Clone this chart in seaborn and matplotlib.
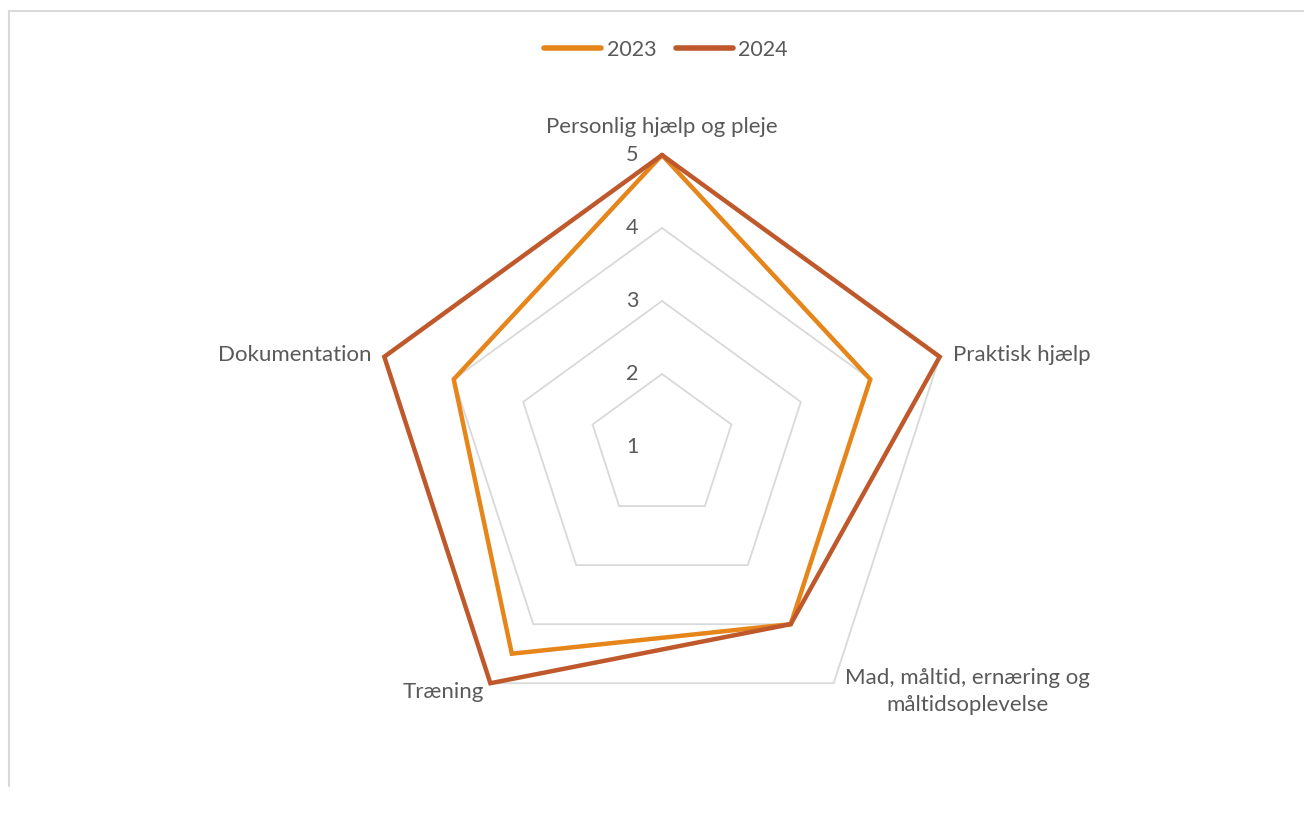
import numpy as np
import pandas as pd
import matplotlib
matplotlib.use("Agg")
import matplotlib.pyplot as plt
from matplotlib.lines import Line2D
import seaborn as sns

categories = ["Personlig hjælp og pleje", "Praktisk hjælp",
              "Mad, måltid, ernæring og\nmåltidsoplevelse", "Træning", "Dokumentation"]
values_2023 = [5, 4, 4, 4.5, 4]
values_2024 = [5, 5, 4, 5, 5]
series_names = ["2023", "2024"]
ring_ticks = [1, 2, 3, 4, 5]

colors = {"2023": "#E6851A", "2024": "#BF582B"}
text_color = "#595959"

sns.set_theme(style="white")
plt.rcParams["font.family"] = ["Lato", "DejaVu Sans"]

W, H = 1304, 814
fig = plt.figure(figsize=(W / 100, H / 100), dpi=100)
cx, cy, R = 662, 447, 292
ax = fig.add_axes([(cx - R) / W, (H - cy - R) / H, 2 * R / W, 2 * R / H], projection="polar")
ax.set_theta_offset(np.pi / 2)
ax.set_theta_direction(-1)
ax.set_ylim(ring_ticks[0], ring_ticks[-1])
ax.grid(False)
ax.spines["polar"].set_visible(False)
ax.set_xticks([])
ax.set_yticks([])
ax.patch.set_alpha(0)

n = len(categories)
angles = np.arange(n) * 2 * np.pi / n
closed_angles = np.append(angles, angles[0])

# pentagon grid rings
for r in ring_ticks[1:]:
    ax.plot(closed_angles, [r] * (n + 1), color="#D9D9D9", lw=1.3, zorder=1, clip_on=False)

rows = []
for name, vals in zip(series_names, [values_2023, values_2024]):
    closed_vals = list(vals) + [vals[0]]
    for i, (a, v) in enumerate(zip(closed_angles, closed_vals)):
        rows.append({"order": i, "theta": a, "value": v, "year": name})
df = pd.DataFrame(rows)

sns.lineplot(data=df, x="theta", y="value", hue="year", palette=colors, sort=False,
             estimator=None, units="year", lw=3.2, ax=ax, legend=False, zorder=3)
for ln in ax.get_lines():
    ln.set_clip_on(False)
    ln.set_solid_joinstyle("miter")
ax.set_xlabel("")
ax.set_ylabel("")
ax.set_ylim(ring_ticks[0], ring_ticks[-1])

fs_cat = 16
fs_small = 15.5
# tick labels
for r in ring_ticks:
    ax.annotate(str(r), xy=(0, r), xytext=(-30, 0), textcoords="offset pixels",
                ha="center", va="center", fontsize=fs_small, color=text_color)

# category labels
label_specs = [
    ((0, 28), "center", "center"),
    ((13, 2), "left", "center"),
    ((11, 15), "left", "top"),
    ((-6, -9), "right", "center"),
    ((-13, 2), "right", "center"),
]
for a, lab, (off, ha, va) in zip(angles, categories, label_specs):
    ax.annotate(lab, xy=(a, ring_ticks[-1]), xytext=off, textcoords="offset pixels",
                ha=ha, va=va, fontsize=fs_cat, color=text_color, multialignment="center",
                linespacing=1.45)

handles = [Line2D([0], [0], color=colors[s], lw=4, solid_capstyle="round") for s in series_names]
fig.legend(handles, series_names, loc="center", bbox_to_anchor=((cx + 4) / W, 1 - 50 / H), ncol=2,
           frameon=False, fontsize=fs_small, handlelength=2.65, handletextpad=0.25,
           columnspacing=0.9, labelcolor=text_color)

# chart area border (top and left visible)
fig.add_artist(Line2D([9 / W, 1], [1 - 11 / H, 1 - 11 / H], transform=fig.transFigure,
                      color="#D9D9D9", lw=1.5))
fig.add_artist(Line2D([9 / W, 9 / W], [1 - 11 / H, 1 - 786 / H], transform=fig.transFigure,
                      color="#D9D9D9", lw=1.5))

fig.savefig("out.png", dpi=100, facecolor="white")
